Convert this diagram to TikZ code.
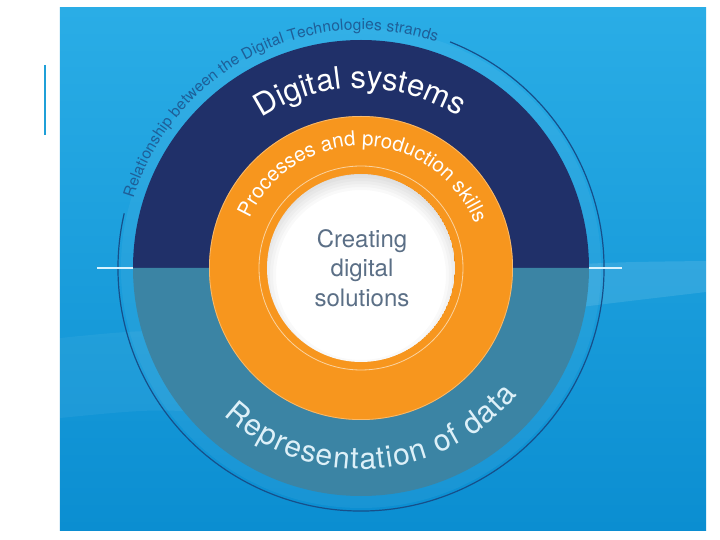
\documentclass[tikz,border=0pt]{standalone}
\usepackage{fontspec}
\setmainfont{TeX Gyre Heros}
\usetikzlibrary{decorations.text}
\definecolor{bgtop}{HTML}{2AADE6}
\definecolor{bgmid}{HTML}{0F9CDC}
\definecolor{bgbot}{HTML}{0B8ED1}
\definecolor{navy}{HTML}{203069}
\definecolor{teal}{HTML}{3B84A4}
\definecolor{orng}{HTML}{F7961E}
\definecolor{ringline}{HTML}{FAD3A0}
\definecolor{relblue}{HTML}{1F5F98}
\definecolor{outline}{HTML}{164F8A}
\definecolor{centertext}{HTML}{5B6F86}
\definecolor{tick}{HTML}{D8F3FF}
\definecolor{sidebar}{HTML}{1FA0D8}
\definecolor{reptext}{HTML}{DDF0F8}
\tikzset{
  arctext/.style={decorate, decoration={text along path, text align={fit to path}, text color=#1}},
  tickline/.style={draw=tick, line width=1.6pt},
}
\begin{document}
\begin{tikzpicture}[x=1pt,y=1pt]
\useasboundingbox (-361,-272) rectangle (359,268);
\fill[white] (-361,-272) rectangle (359,268);
% background panel
\shade[top color=bgtop, middle color=bgmid, bottom color=bgbot] (-301,-262) rectangle (345,260);
\fill[white, opacity=0.10] (180,2) .. controls (260,6) .. (345,7) -- (345,-24) .. controls (260,-34) .. (180,-44) -- cycle;
\fill[white, opacity=0.05] (-301,-70) .. controls (-200,-60) .. (-100,-75) -- (-100,-150) .. controls (-200,-140) .. (-301,-150) -- cycle;
% side bar
\draw[sidebar, line width=2.6pt] (-316,203) -- (-316,133);
% light band
\fill[white, opacity=0.05] (0,0) circle (240);
% outer arc line
\draw[outline, line width=1.2pt] (68.5:243) arc (68.5:-193:243);
% halves
\fill[navy] (228,0) arc (0:180:228) -- cycle;
\fill[teal] (-228,0) arc (180:360:228) -- cycle;
% ticks
\draw[tickline] (-264,0) -- (-228,0);
\draw[tickline] (228,0) -- (261,0);
% orange ring
\fill[orng] (0,0) circle (152);
\draw[ringline, opacity=0.6, line width=0.8pt] (0,0) circle (151.6);
\draw[ringline, line width=0.8pt] (0,0) circle (102);
% white disc with inner shadow
\begin{scope}
  \clip (0,0) circle (94);
  \fill[white] (0,0) circle (94);
  \foreach \w in {6,12,...,42} \draw[black, opacity=0.022, line width=\w pt] (0,-7) circle (106);
\end{scope}
\node[centertext, align=center, font=\fontsize{24}{29.5}\selectfont] (core) at (1,0) {Creating\\digital\\solutions};
% curved texts
\path[arctext=relblue, decoration={text={|\fontsize{15.5}{16}\selectfont|Relationship between the Digital Technologies strands}}] (163:238) arc (163:71.5:238);
\path[arctext=white, decoration={text={|\fontsize{31}{32}\selectfont|Digital systems}}] (123.5:180) arc (123.5:57.5:180);
\path[arctext=white, decoration={text={|\fontsize{20.5}{21}\selectfont|Processes and production skills}}] (156:122) arc (156:23:122);
\path[arctext=reptext, decoration={text={|\fontsize{30}{31}\selectfont|Representation of data}}] (227:201) arc (227:321:201);
\end{tikzpicture}
\end{document}
